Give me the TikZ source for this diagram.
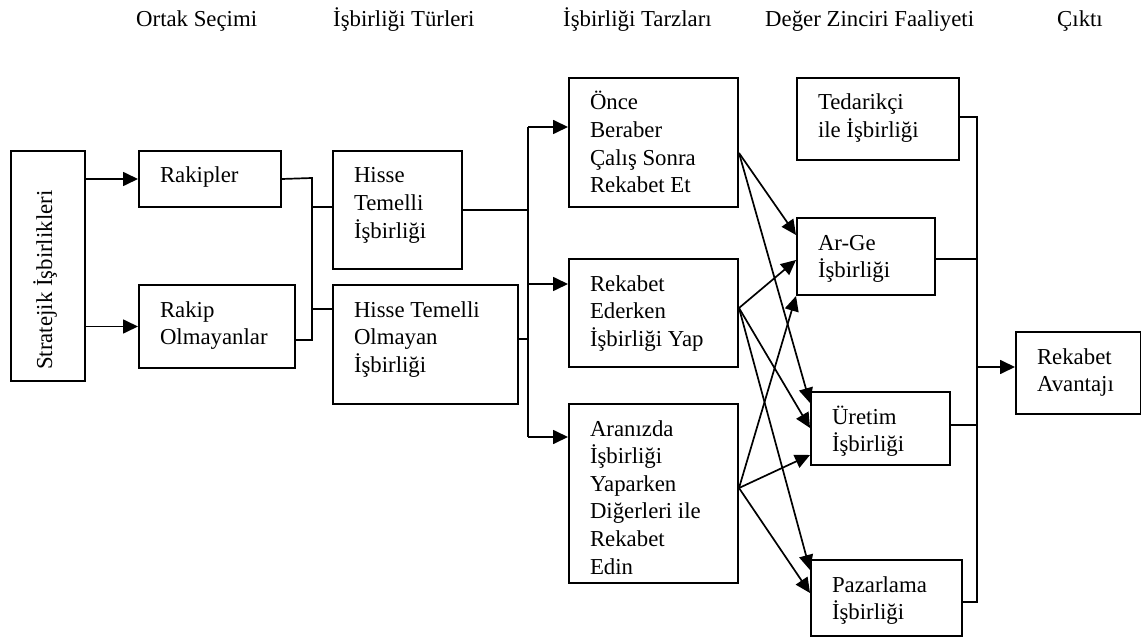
\documentclass[tikz,border=0pt]{standalone}
\usepackage{fontspec}
\setmainfont{Liberation Serif}
\usetikzlibrary{arrows.meta,calc}

% text block inside a box: width, height, lines (top aligned, left padded)
\newcommand\boxtxt[3]{\parbox[c][#2][t]{#1}{\leftskip=21pt\rightskip=0pt plus 1fil\parindent=0pt\vspace*{12pt}\rule{0pt}{20pt}#3}}

\begin{document}
\begin{tikzpicture}[x=1pt,y=-1pt,
  txt/.style={font=\fontsize{22.8pt}{27.6pt}\selectfont, inner sep=0pt},
  box/.style={txt, draw, line width=2pt, anchor=north west},
  ln/.style={line width=1.7pt},
  arr/.style={ln, -{Triangle[length=15pt,width=14pt]}},
  ttl/.style={txt, anchor=base west}]
\useasboundingbox (0,0) rectangle (1141,639);

% column headings
\node[ttl] (h1) at (136,27) {Ortak Seçimi};
\node[ttl] (h2) at (333,27) {İşbirliği Türleri};
\node[ttl] (h3) at (563,27) {İşbirliği Tarzları};
\node[ttl] (h4) at (765,27) {Değer Zinciri Faaliyeti};
\node[ttl] (h5) at (1057,27) {Çıktı};

% boxes
\node[box, minimum width=74pt, minimum height=230pt] (st) at (10,150) {};
\node[txt, rotate=90, anchor=base west] (stt) at (52,370) {Stratejik İşbirlikleri};

\node[box] (rak) at (138,150) {\boxtxt{142pt}{56pt}{Rakipler}};
\node[box] (ro) at (138,284) {\boxtxt{156pt}{83pt}{Rakip\\Olmayanlar}};

\node[box] (ht) at (332,150) {\boxtxt{129pt}{118pt}{Hisse\\Temelli\\İşbirliği}};
\node[box] (hto) at (332,284) {\boxtxt{185pt}{119pt}{Hisse Temelli\\Olmayan\\İşbirliği}};

\node[box] (once) at (568,77) {\boxtxt{169pt}{129pt}{Önce\\Beraber\\Çalış Sonra\\Rekabet Et}};
\node[box] (re) at (568,258) {\boxtxt{169pt}{108pt}{Rekabet\\Ederken\\İşbirliği Yap}};
\node[box] (ar) at (568,403) {\boxtxt{169pt}{179pt}{Aranızda\\İşbirliği\\Yaparken\\Diğerleri ile\\Rekabet\\Edin}};

\node[box] (ted) at (796,77) {\boxtxt{162pt}{82pt}{Tedarikçi\\ile İşbirliği}};
\node[box] (arge) at (796,217) {\boxtxt{138pt}{77pt}{Ar-Ge\\İşbirliği}};
\node[box] (ure) at (810,391) {\boxtxt{139pt}{73pt}{Üretim\\İşbirliği}};
\node[box] (paz) at (810,559) {\boxtxt{151pt}{76pt}{Pazarlama\\İşbirliği}};

\node[box] (rek) at (1015,331) {\boxtxt{125pt}{82pt}{Rekabet\\Avantajı}};

% partner selection
\draw[arr] (st.east |- rak.west) -- (rak.west);
\draw[arr] (st.east |- ro.west) -- (ro.west);

% joining competitors / non-competitors
\coordinate (ja) at (312,178);
\coordinate (jb) at (312,340);
\coordinate (jc) at (312,207);
\coordinate (jd) at (312,309);
\draw[ln] (rak.east) -- (ja) -- (jb) -- (ro.east |- jb);
\draw[ln] (jc) -- (ht.west |- jc);
\draw[ln] (jd) -- (hto.west |- jd);

% cooperation types to styles
\coordinate (ka) at (528,127);
\coordinate (kb) at (528,284);
\coordinate (kc) at (528,437);
\coordinate (kd) at (528,339);
\draw[ln] (ht.east) -- (ht.east -| ka);
\draw[ln] (hto.east |- kd) -- (kd);
\draw[ln] (ka) -- (kc);
\draw[arr] (ka) -- (once.west |- ka);
\draw[arr] (kb) -- (re.west |- kb);
\draw[arr] (kc) -- (ar.west |- kc);

% styles to value chain activities
\coordinate (o1) at ($(once.north east)+(0,76)$);
\coordinate (r1) at ($(re.north east)+(0,50)$);
\coordinate (a1) at ($(ar.north east)+(0,85)$);
\draw[arr] (o1) -- ($(arge.north west)+(0,18)$);
\draw[arr] (o1) -- ($(ure.north west)+(0,12)$);
\draw[arr] (r1) -- ($(arge.north west)+(0,43)$);
\draw[arr] (r1) -- ($(ure.north west)+(0,37)$);
\draw[arr] (r1) -- ($(paz.north west)+(0,11)$);
\draw[arr] (a1) -- (arge.south west);
\draw[arr] (a1) -- ($(ure.north west)+(0,64)$);
\draw[arr] (a1) -- ($(paz.north west)+(0,34)$);

% value chain to output
\coordinate (ma) at (977,117);
\coordinate (mb) at (977,602);
\coordinate (mc) at (977,367);
\draw[ln] (ted.east |- ma) -- (ma) -- (mb) -- (paz.east |- mb);
\draw[ln] (arge.east |- 0,259) -- (977,259);
\draw[ln] (ure.east |- 0,425) -- (977,425);
\draw[arr] (mc) -- (rek.west |- mc);
\end{tikzpicture}
\end{document}
